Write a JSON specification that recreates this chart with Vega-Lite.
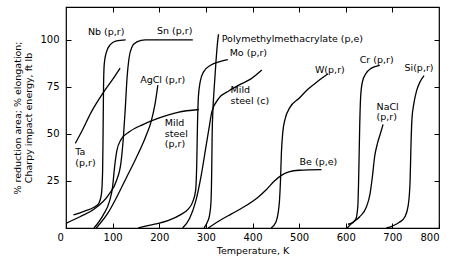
{
  "$schema": "https://vega.github.io/schema/vega-lite/v6.json",
  "width": 373,
  "height": 221,
  "autosize": "none",
  "padding": {"left": 66, "top": 7, "right": 13, "bottom": 33},
  "background": "white",
  "datasets": {
    "curves": [
      {"c":"Ta","i":0,"T":20,"Y":45},{"c":"Ta","i":1,"T":35,"Y":52},{"c":"Ta","i":2,"T":55,"Y":62},{"c":"Ta","i":3,"T":80,"Y":72},{"c":"Ta","i":4,"T":100,"Y":79},{"c":"Ta","i":5,"T":116,"Y":85},
      {"c":"Nb","i":0,"T":16,"Y":7},{"c":"Nb","i":1,"T":40,"Y":9},{"c":"Nb","i":2,"T":60,"Y":11},{"c":"Nb","i":3,"T":70,"Y":13},{"c":"Nb","i":4,"T":76,"Y":18},{"c":"Nb","i":5,"T":78.5,"Y":30},{"c":"Nb","i":6,"T":79.5,"Y":50},{"c":"Nb","i":7,"T":80.5,"Y":75},{"c":"Nb","i":8,"T":82,"Y":87},{"c":"Nb","i":9,"T":86,"Y":93},{"c":"Nb","i":10,"T":95,"Y":97.5},{"c":"Nb","i":11,"T":108,"Y":99.5},{"c":"Nb","i":12,"T":128,"Y":100},
      {"c":"Sn","i":0,"T":0,"Y":2.5},{"c":"Sn","i":1,"T":30,"Y":6},{"c":"Sn","i":2,"T":60,"Y":10},{"c":"Sn","i":3,"T":91,"Y":17.5},{"c":"Sn","i":4,"T":108,"Y":25},{"c":"Sn","i":5,"T":118,"Y":35},{"c":"Sn","i":6,"T":123,"Y":48},{"c":"Sn","i":7,"T":127,"Y":63},{"c":"Sn","i":8,"T":131,"Y":80},{"c":"Sn","i":9,"T":135,"Y":90},{"c":"Sn","i":10,"T":141,"Y":96},{"c":"Sn","i":11,"T":152,"Y":99},{"c":"Sn","i":12,"T":170,"Y":100},{"c":"Sn","i":13,"T":272,"Y":100},
      {"c":"AgCl","i":0,"T":65,"Y":0},{"c":"AgCl","i":1,"T":90,"Y":8},{"c":"AgCl","i":2,"T":110,"Y":17},{"c":"AgCl","i":3,"T":130,"Y":27},{"c":"AgCl","i":4,"T":150,"Y":37},{"c":"AgCl","i":5,"T":170,"Y":48},{"c":"AgCl","i":6,"T":183,"Y":57},{"c":"AgCl","i":7,"T":191,"Y":66},{"c":"AgCl","i":8,"T":197,"Y":76},
      {"c":"MSpr","i":0,"T":60,"Y":0},{"c":"MSpr","i":1,"T":80,"Y":7},{"c":"MSpr","i":2,"T":93,"Y":14},{"c":"MSpr","i":3,"T":100,"Y":22},{"c":"MSpr","i":4,"T":104,"Y":32},{"c":"MSpr","i":5,"T":109,"Y":41},{"c":"MSpr","i":6,"T":118,"Y":47},{"c":"MSpr","i":7,"T":135,"Y":51},{"c":"MSpr","i":8,"T":165,"Y":55},{"c":"MSpr","i":9,"T":200,"Y":58.5},{"c":"MSpr","i":10,"T":240,"Y":61.5},{"c":"MSpr","i":11,"T":285,"Y":63},
      {"c":"Mo","i":0,"T":155,"Y":0},{"c":"Mo","i":1,"T":190,"Y":2},{"c":"Mo","i":2,"T":220,"Y":4},{"c":"Mo","i":3,"T":245,"Y":7},{"c":"Mo","i":4,"T":262,"Y":10},{"c":"Mo","i":5,"T":272,"Y":14},{"c":"Mo","i":6,"T":278,"Y":20},{"c":"Mo","i":7,"T":280.5,"Y":35},{"c":"Mo","i":8,"T":282,"Y":55},{"c":"Mo","i":9,"T":284,"Y":70},{"c":"Mo","i":10,"T":288,"Y":78},{"c":"Mo","i":11,"T":295,"Y":83},{"c":"Mo","i":12,"T":310,"Y":86.5},{"c":"Mo","i":13,"T":330,"Y":88.5},{"c":"Mo","i":14,"T":347,"Y":89.5},
      {"c":"PMMA","i":0,"T":296,"Y":0},{"c":"PMMA","i":1,"T":303,"Y":3},{"c":"PMMA","i":2,"T":308,"Y":7},{"c":"PMMA","i":3,"T":311,"Y":14},{"c":"PMMA","i":4,"T":312.5,"Y":30},{"c":"PMMA","i":5,"T":313.5,"Y":50},{"c":"PMMA","i":6,"T":315,"Y":62},{"c":"PMMA","i":7,"T":318,"Y":75},{"c":"PMMA","i":8,"T":321,"Y":86},{"c":"PMMA","i":9,"T":324,"Y":96},{"c":"PMMA","i":10,"T":327,"Y":103},
      {"c":"MSc","i":0,"T":250,"Y":0},{"c":"MSc","i":1,"T":265,"Y":5},{"c":"MSc","i":2,"T":278,"Y":14},{"c":"MSc","i":3,"T":290,"Y":28},{"c":"MSc","i":4,"T":300,"Y":43},{"c":"MSc","i":5,"T":308,"Y":55},{"c":"MSc","i":6,"T":313,"Y":62},{"c":"MSc","i":7,"T":328,"Y":69},{"c":"MSc","i":8,"T":350,"Y":73},{"c":"MSc","i":9,"T":375,"Y":76.5},{"c":"MSc","i":10,"T":395,"Y":79},{"c":"MSc","i":11,"T":420,"Y":84},
      {"c":"Be","i":0,"T":305,"Y":0},{"c":"Be","i":1,"T":330,"Y":4},{"c":"Be","i":2,"T":355,"Y":7.5},{"c":"Be","i":3,"T":380,"Y":11},{"c":"Be","i":4,"T":410,"Y":16},{"c":"Be","i":5,"T":430,"Y":20.5},{"c":"Be","i":6,"T":447,"Y":25},{"c":"Be","i":7,"T":462,"Y":28},{"c":"Be","i":8,"T":478,"Y":29.8},{"c":"Be","i":9,"T":500,"Y":30.7},{"c":"Be","i":10,"T":548,"Y":31},
      {"c":"W","i":0,"T":440,"Y":0},{"c":"W","i":1,"T":450,"Y":3},{"c":"W","i":2,"T":455,"Y":8},{"c":"W","i":3,"T":458,"Y":15},{"c":"W","i":4,"T":460,"Y":25},{"c":"W","i":5,"T":462,"Y":40},{"c":"W","i":6,"T":465,"Y":51},{"c":"W","i":7,"T":470,"Y":58},{"c":"W","i":8,"T":480,"Y":64},{"c":"W","i":9,"T":500,"Y":69},{"c":"W","i":10,"T":520,"Y":74},{"c":"W","i":11,"T":540,"Y":78},{"c":"W","i":12,"T":562,"Y":82},
      {"c":"Cr","i":0,"T":605,"Y":2},{"c":"Cr","i":1,"T":616,"Y":3},{"c":"Cr","i":2,"T":622,"Y":5},{"c":"Cr","i":3,"T":626,"Y":12},{"c":"Cr","i":4,"T":628,"Y":30},{"c":"Cr","i":5,"T":630,"Y":55},{"c":"Cr","i":6,"T":632,"Y":70},{"c":"Cr","i":7,"T":636,"Y":78},{"c":"Cr","i":8,"T":643,"Y":82},{"c":"Cr","i":9,"T":655,"Y":85},{"c":"Cr","i":10,"T":673,"Y":86.5},
      {"c":"NaCl","i":0,"T":603,"Y":0},{"c":"NaCl","i":1,"T":615,"Y":3},{"c":"NaCl","i":2,"T":630,"Y":6},{"c":"NaCl","i":3,"T":644,"Y":11},{"c":"NaCl","i":4,"T":652,"Y":18},{"c":"NaCl","i":5,"T":657,"Y":27},{"c":"NaCl","i":6,"T":662,"Y":38},{"c":"NaCl","i":7,"T":668,"Y":45},{"c":"NaCl","i":8,"T":674,"Y":50},{"c":"NaCl","i":9,"T":680,"Y":55},
      {"c":"Si","i":0,"T":687,"Y":0},{"c":"Si","i":1,"T":700,"Y":1},{"c":"Si","i":2,"T":715,"Y":3},{"c":"Si","i":3,"T":727,"Y":6},{"c":"Si","i":4,"T":734,"Y":12},{"c":"Si","i":5,"T":738,"Y":25},{"c":"Si","i":6,"T":740,"Y":45},{"c":"Si","i":7,"T":742,"Y":58},{"c":"Si","i":8,"T":746,"Y":66},{"c":"Si","i":9,"T":752,"Y":73},{"c":"Si","i":10,"T":760,"Y":78},{"c":"Si","i":11,"T":768,"Y":81}
    ],
    "labels": [
      {"t":"Nb (p,r)","T":47,"Y":106.7},
      {"t":"Sn (p,r)","T":195,"Y":107.3},
      {"t":"AgCl (p,r)","T":159,"Y":81.2},
      {"t":["Ta","(p,r)"],"T":20,"Y":43},
      {"t":["Mild","steel","(p,r)"],"T":212,"Y":58.4},
      {"t":"Polymethylmethacrylate (p,e)","T":334,"Y":102.9},
      {"t":"Mo (p,r)","T":351,"Y":95.6},
      {"t":["Mild","steel (c)"],"T":353,"Y":75.9},
      {"t":"W(p,r)","T":534,"Y":86.6},
      {"t":"Be (p,e)","T":501,"Y":37.9},
      {"t":"Cr (p,r)","T":630,"Y":91.9},
      {"t":["NaCl","(p,r)"],"T":666,"Y":67},
      {"t":"Si(p,r)","T":726,"Y":87.6}
    ]
  },
  "layer": [
    {
      "data": {"name": "curves"},
      "mark": {"type": "line", "interpolate": "monotone", "stroke": "black", "strokeWidth": 1.3},
      "encoding": {
        "x": {"field": "T", "type": "quantitative", "scale": {"domain": [0, 800], "nice": false, "zero": false},
              "axis": {"orient": "bottom", "values": [0,100,200,300,400,500,600,700,800], "tickSize": -5, "labelPadding": 9,
                       "labelOffset": {"condition": {"test": "datum.value == 0", "value": -9}, "value": 0},
                       "title": "Temperature, K", "titleFontSize": 9.5, "titlePadding": 3}},
        "y": {"field": "Y", "type": "quantitative", "scale": {"domain": [0, 117.5], "nice": false, "zero": false},
              "axis": {"orient": "left", "values": [25,50,75,100], "tickSize": -5, "labelPadding": 12,
                       "title": ["% reduction area; % elongation;", "Charpy impact energy, ft lb"], "titleFontSize": 9.5, "titlePadding": 6}},
        "detail": {"field": "c"},
        "order": {"field": "i", "type": "quantitative"}
      }
    },
    {
      "data": {"name": "labels"},
      "mark": {"type": "text", "align": "left", "baseline": "top", "font": "DejaVu Sans", "fontSize": 9.5, "lineHeight": 10.5, "color": "black"},
      "encoding": {
        "x": {"field": "T", "type": "quantitative", "axis": null},
        "y": {"field": "Y", "type": "quantitative", "axis": null},
        "text": {"field": "t"}
      }
    },
    {
      "data": {"name": "curves"},
      "mark": {"type": "point", "opacity": 0, "size": 0},
      "encoding": {
        "x": {"field": "T", "type": "quantitative", "axis": {"orient": "top", "values": [100,200,300,400,500,600,700], "tickSize": -5, "labels": false, "title": null}},
        "y": {"field": "Y", "type": "quantitative", "axis": {"orient": "right", "values": [25,50,75,100], "tickSize": -5, "labels": false, "title": null}}
      }
    }
  ],
  "resolve": {"axis": {"x": "independent", "y": "independent"}},
  "config": {
    "view": {"stroke": "black", "strokeWidth": 1.2},
    "axis": {"domain": false, "grid": false, "tickColor": "black", "tickWidth": 1, "labelColor": "black", "titleColor": "black",
             "labelFont": "DejaVu Sans", "labelFontSize": 10, "titleFont": "DejaVu Sans", "titleFontWeight": "normal"}
  }
}
